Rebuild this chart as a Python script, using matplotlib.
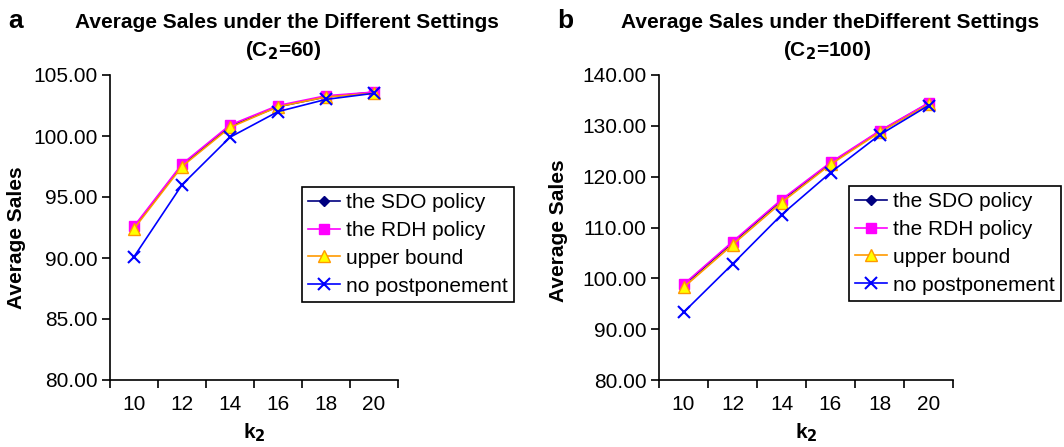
import matplotlib
matplotlib.use("Agg")
import matplotlib.pyplot as plt
import numpy as np

plt.rcParams['font.family'] = ['Liberation Sans', 'DejaVu Sans']

k2 = ['10', '12', '14', '16', '18', '20']

# panel a (C2=60)
sdo_a = [92.5, 97.6, 100.8, 102.4, 103.2, 103.6]
rdh_a = [92.6, 97.7, 100.9, 102.5, 103.3, 103.6]
ub_a = [92.4, 97.5, 100.7, 102.4, 103.2, 103.5]
nopost_a = [90.1, 96.0, 99.9, 102.0, 103.0, 103.5]

# panel b (C2=100)
sdo_b = [98.6, 107.0, 115.3, 122.6, 128.9, 134.4]
rdh_b = [98.8, 107.2, 115.5, 122.8, 129.0, 134.5]
ub_b = [98.2, 106.6, 114.9, 122.4, 128.7, 134.2]
nopost_b = [93.3, 102.8, 112.5, 120.8, 128.2, 134.0]

labels = ['the SDO policy', 'the RDH policy', 'upper bound', 'no postponement']

W, H = 1064, 447
fig = plt.figure(figsize=(W / 100, H / 100), dpi=100)


def px_axes(x0, x1, y0, y1):
    return fig.add_axes([x0 / W, 1 - y1 / H, (x1 - x0) / W, (y1 - y0) / H])


def draw_panel(ax, series, ylim, yticks, leg_xy):
    x = np.arange(len(k2))
    sdo, rdh, ub, nop = series
    ax.plot(x, sdo, color='#000080', marker='D', markersize=5.5, lw=1.2, label=labels[0])
    ax.plot(x, rdh, color='#FF00FF', marker='s', markersize=6.5, lw=1.2, label=labels[1])
    ax.plot(x, ub, color='#FF9900', marker='^', markersize=8, lw=1.2,
            markerfacecolor='#FFFF00', markeredgecolor='#FF9900', label=labels[2])
    ax.plot(x, nop, color='#0000FF', marker='x', markersize=9, mew=1.5, lw=1.2, label=labels[3])

    ax.set_xlim(-0.5, len(k2) - 0.5)
    ax.set_ylim(*ylim)
    ax.set_xticks(np.arange(-0.5, len(k2), 1.0))
    ax.set_xticklabels([])
    ax.set_xticks(x, minor=True)
    ax.set_xticklabels(k2, minor=True)
    ax.tick_params(axis='x', which='minor', length=0, pad=11, labelsize=15)
    ax.tick_params(axis='x', which='major', direction='out', length=6, width=1.2)
    ax.set_yticks(yticks)
    ax.set_yticklabels(['%.2f' % v for v in yticks])
    ax.tick_params(axis='y', direction='out', length=6, width=1.2, labelsize=15, pad=3)
    for s in ['top', 'right']:
        ax.spines[s].set_visible(False)
    for s in ['left', 'bottom']:
        ax.spines[s].set_linewidth(1.2)

    ax.set_xlabel('k$_\\mathbf{2}$', fontsize=15, fontweight='bold', labelpad=5)

    leg = ax.legend(loc='upper left', bbox_to_anchor=(leg_xy[0] / W, 1 - leg_xy[1] / H),
                    bbox_transform=fig.transFigure, borderaxespad=0, fontsize=15,
                    fancybox=False, edgecolor='black', framealpha=1, handlelength=1.5,
                    handletextpad=0.3, labelspacing=0.42, borderpad=0.3)
    leg.get_frame().set_linewidth(1.2)


ax1 = px_axes(110, 398, 75, 380)
draw_panel(ax1, (sdo_a, rdh_a, ub_a, nopost_a), (80, 105), np.arange(80, 105.1, 5), (302, 187))
ax1.set_ylabel('Average Sales', fontsize=15, fontweight='bold')
ax1.yaxis.set_label_coords(-0.292, 0.466)

ax2 = px_axes(659, 953, 75, 380)
draw_panel(ax2, (sdo_b, rdh_b, ub_b, nopost_b), (80, 140), np.arange(80, 140.1, 10), (849, 186))
ax2.set_ylabel('Average Sales', fontsize=15, fontweight='bold')
ax2.yaxis.set_label_coords(-0.31, 0.49)

# titles
fig.text(287 / W, 1 - 22 / H, 'Average Sales under the Different Settings', ha='center', va='center',
         fontsize=15, fontweight='bold')
fig.text(283 / W, 1 - 50 / H, '(C$_\\mathbf{2}$=60)', ha='center', va='center',
         fontsize=15, fontweight='bold')
fig.text(830 / W, 1 - 22 / H, 'Average Sales under theDifferent Settings', ha='center', va='center',
         fontsize=15, fontweight='bold')
fig.text(827 / W, 1 - 50 / H, '(C$_\\mathbf{2}$=100)', ha='center', va='center',
         fontsize=15, fontweight='bold')
fig.text(16 / W, 1 - 21 / H, 'a', ha='center', va='center', fontsize=19, fontweight='bold')
fig.text(565 / W, 1 - 21 / H, 'b', ha='center', va='center', fontsize=19, fontweight='bold')

fig.savefig('out.png', dpi=100)
